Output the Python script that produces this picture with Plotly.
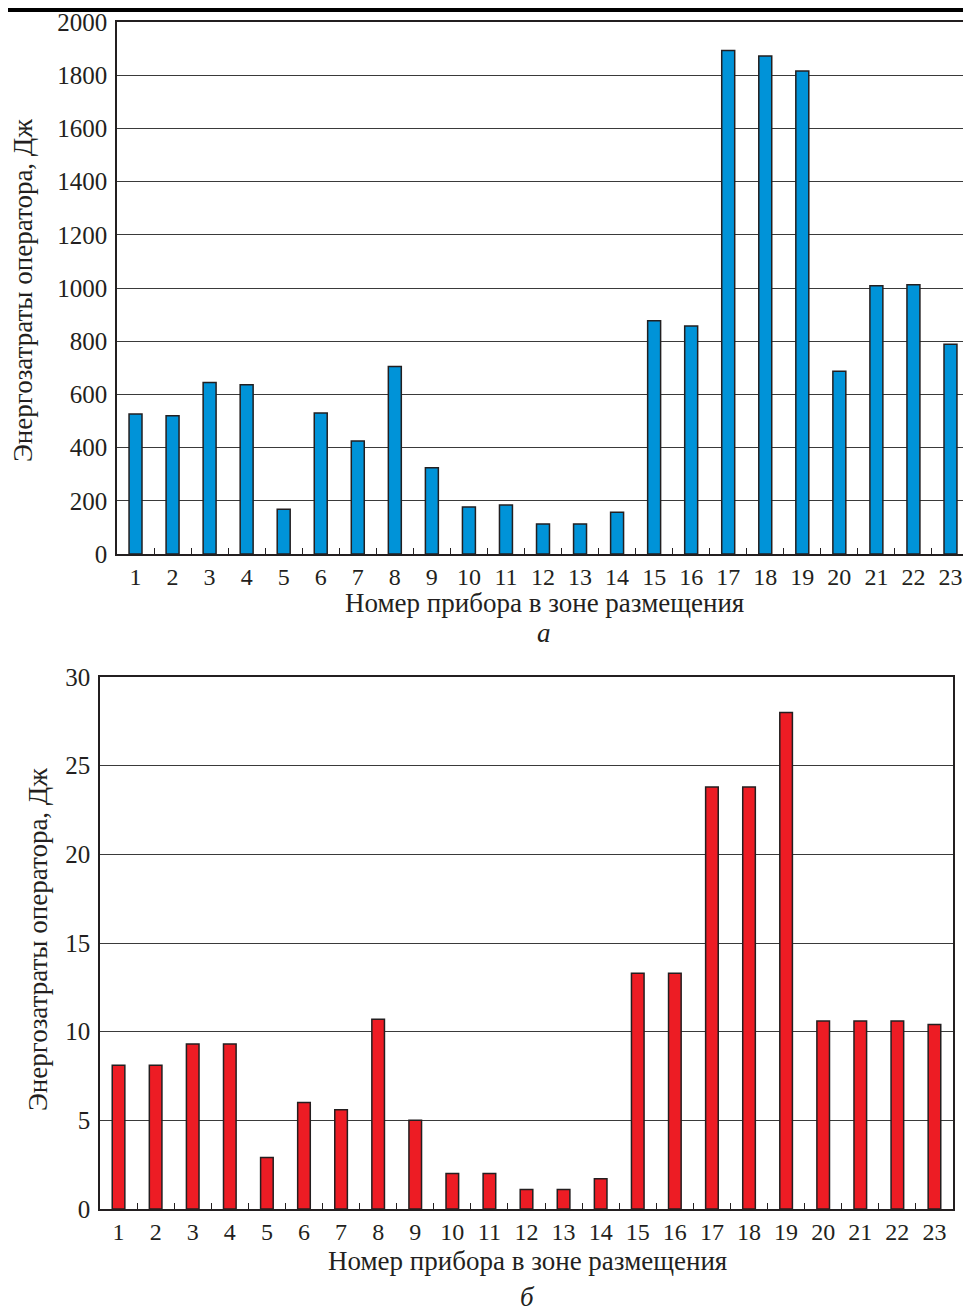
import plotly.graph_objects as go

devices = [str(i) for i in range(1, 24)]
energy_a = [526, 520, 645, 636, 168, 530, 425, 705, 324, 177, 184, 113, 113, 157,
            877, 857, 1893, 1872, 1816, 687, 1008, 1012, 789]
energy_b = [8.1, 8.1, 9.3, 9.3, 2.9, 6.0, 5.6, 10.7, 5.0, 2.0, 2.0, 1.1, 1.1, 1.7,
            13.3, 13.3, 23.8, 23.8, 28.0, 10.6, 10.6, 10.6, 10.4]
y_ticks_a = [0, 200, 400, 600, 800, 1000, 1200, 1400, 1600, 1800, 2000]
y_ticks_b = [0, 5, 10, 15, 20, 25, 30]
x_title = "Номер прибора в зоне размещения"
y_title = "Энергозатраты оператора, Дж"

W, H = 971, 1311
OFF = 8  # page body margin
FONT = "Liberation Serif"
TXT = "#231f20"


def px(x):
    return (x - OFF) / W


def py(y):
    return 1 - (y - OFF) / H


fig = go.Figure()
fig.add_trace(go.Bar(x=devices, y=energy_a, width=0.35, xaxis="x", yaxis="y",
                     marker=dict(color="#0093d8", line=dict(color="#231f20", width=1.5)),
                     showlegend=False))
fig.add_trace(go.Bar(x=devices, y=energy_b, width=0.34, xaxis="x2", yaxis="y2",
                     marker=dict(color="#ed1c24", line=dict(color="#231f20", width=1.5)),
                     showlegend=False))

common_x = dict(type="category", showline=True, linecolor=TXT, linewidth=1.5, mirror=True,
                ticks="inside", tickson="boundaries", ticklen=6, tickcolor=TXT, tickwidth=1.2,
                showgrid=False, automargin=False,
                tickfont=dict(family=FONT, size=24, color=TXT))
common_y = dict(showline=True, linecolor=TXT, linewidth=1.5, mirror=True, ticks="",
                showgrid=True, gridcolor="#3a3a3a", gridwidth=1, zeroline=False,
                automargin=False, ticklabelstandoff=3,
                tickfont=dict(family=FONT, size=25, color=TXT))

fig.update_layout(
    width=W, height=H, margin=dict(l=0, r=0, t=0, b=0, autoexpand=False),
    paper_bgcolor="white", plot_bgcolor="white",
    xaxis=dict(domain=[px(117), px(969)], anchor="y", **common_x),
    yaxis=dict(domain=[py(554), py(22)], anchor="x", range=[0, 2000],
               tickvals=y_ticks_a, **common_y),
    xaxis2=dict(domain=[px(100), px(953)], anchor="y2", **common_x),
    yaxis2=dict(domain=[py(1209), py(677)], anchor="x2", range=[0, 30],
                tickvals=y_ticks_b, **common_y),
)

annots = [
    dict(text=x_title, x=px(544), y=py(603)),
    dict(text="<i>а</i>", x=px(544), y=py(633)),
    dict(text=y_title, x=px(23), y=py(291), textangle=-90),
    dict(text=x_title, x=px(527), y=py(1261)),
    dict(text="<i>б</i>", x=px(527), y=py(1297)),
    dict(text=y_title, x=px(38), y=py(940), textangle=-90),
]
for a in annots:
    fig.add_annotation(xref="paper", yref="paper", showarrow=False,
                       xanchor="center", yanchor="middle",
                       font=dict(family=FONT, size=27, color=TXT), **a)

fig.add_shape(type="rect", xref="paper", yref="paper", x0=0, x1=1, y0=1 - 4 / H, y1=1,
              fillcolor="black", line=dict(width=0))

fig.write_html("out.html")
